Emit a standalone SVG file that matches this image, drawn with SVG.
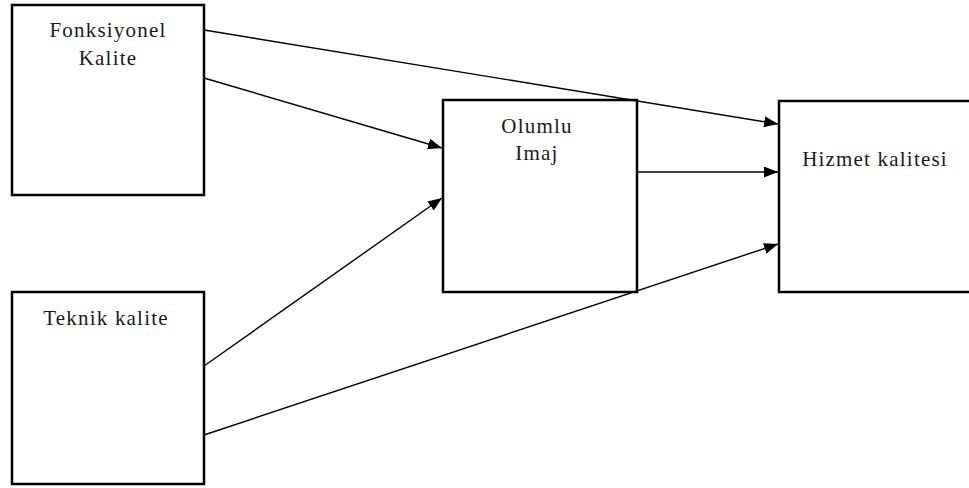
<svg xmlns="http://www.w3.org/2000/svg" width="969" height="488" viewBox="0 0 969 488">
<style>
.box{fill:#fff;stroke:#000;stroke-width:2.5}
.lbl{font-family:"Liberation Serif","Times New Roman",serif;font-size:21px;letter-spacing:1.2px;fill:#1a1a1a;text-anchor:middle}
.ln{stroke:#000;stroke-width:1.4;fill:none}
</style>
<defs>
<marker id="ah" viewBox="0 0 14 11" refX="14" refY="5.5" markerWidth="14" markerHeight="11" markerUnits="userSpaceOnUse" orient="auto">
<path d="M0,0 L14,5.5 L0,11 Z" fill="#000"/>
</marker>
</defs>
<rect width="969" height="488" fill="#fff"/>
<g id="fonksiyonel">
<rect class="box" x="12" y="5" width="192" height="190"/>
<text class="lbl" x="108" y="37">Fonksiyonel</text>
<text class="lbl" x="108" y="65">Kalite</text>
</g>
<g id="teknik">
<rect class="box" x="12" y="292" width="192" height="192"/>
<text class="lbl" x="106" y="325">Teknik kalite</text>
</g>
<g id="olumlu">
<rect class="box" x="443" y="100" width="194" height="192"/>
<text class="lbl" x="537" y="133">Olumlu</text>
<text class="lbl" x="537" y="160">Imaj</text>
</g>
<g id="hizmet">
<rect class="box" x="779" y="101" width="200" height="191"/>
<text class="lbl" x="875" y="166">Hizmet kalitesi</text>
</g>
<g id="connectors">
<line class="ln" x1="204" y1="30" x2="778" y2="124" stroke-width="2.2" marker-end="url(#ah)"/>
<line class="ln" x1="204" y1="78" x2="442" y2="148" marker-end="url(#ah)"/>
<line class="ln" x1="204" y1="366" x2="442" y2="198" marker-end="url(#ah)"/>
<line class="ln" x1="204" y1="435" x2="778" y2="244" marker-end="url(#ah)"/>
<line class="ln" x1="637" y1="172" x2="778" y2="172" marker-end="url(#ah)"/>
</g>
</svg>
